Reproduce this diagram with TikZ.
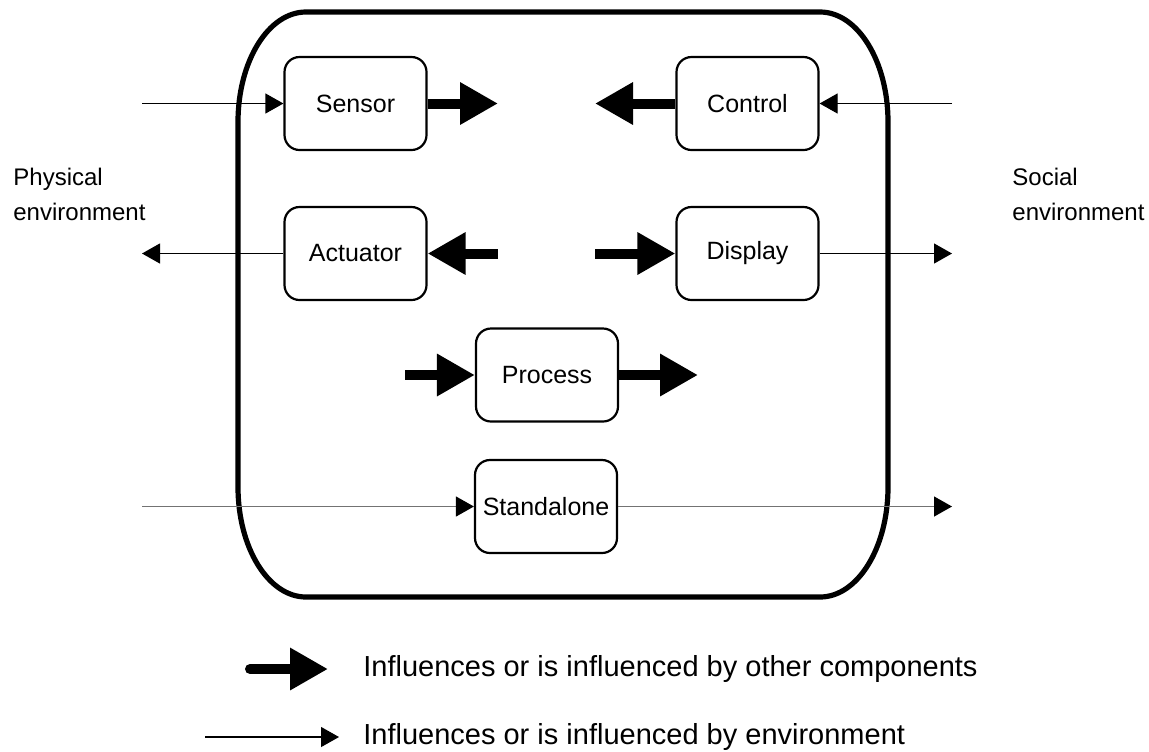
\documentclass[tikz,border=0pt]{standalone}
\usepackage{fontspec}
\setmainfont{Liberation Sans}
\usetikzlibrary{arrows.meta}

\tikzset{
  unit/.style={draw, line width=1.1pt, rounded corners=7.5pt, minimum width=71pt,
    minimum height=46.5pt, inner sep=2pt, font=\fontsize{12.5}{15}\selectfont},
  envflow/.style={line width=0.6pt, -{Triangle[length=9pt,width=10pt,black]}},
  compflow/.style={line width=5pt, -{Triangle[length=19pt,width=20pt]}},
  envlabel/.style={align=left, anchor=north west, inner sep=0pt,
    font=\fontsize{12}{17.5}\selectfont},
  legtext/.style={anchor=west, inner sep=0pt, font=\fontsize{14.5}{17}\selectfont}
}

\begin{document}
\begin{tikzpicture}[x=0.5pt, y=-0.5pt]

  \useasboundingbox (0,0) rectangle (1149,751);

  % Device outline
  \draw[line width=2.6pt]
    (238,122) .. controls (238,61.2) and (268.4,12) .. (306,12)
    -- (820,12) .. controls (857.6,12) and (888,61.2) .. (888,122)
    -- (888,487) .. controls (888,547.8) and (857.6,597) .. (820,597)
    -- (306,597) .. controls (268.4,597) and (238,547.8) .. (238,487) -- cycle;

  % Components
  \foreach \name/\txt/\x/\y in {sensor/Sensor/355.5/103.5, control/Control/747.5/103.5,
      actuator/Actuator/355.5/253.5, display/Display/747.5/253.5,
      process/Process/547/375, standalone/Standalone/546/506.5}
    {\node[unit] (\name) at (\x,\y) {\txt};}

  % Environments
  \node[envlabel] (physical) at (13,168) {Physical\\environment};
  \node[envlabel] (social) at (1012,168) {Social\\environment};

  % Free ends
  \coordinate (physin) at (142,103.5);
  \coordinate (physout) at (142,253.5);
  \coordinate (physsa) at (142,506.5);
  \coordinate (socin) at (952,103.5);
  \coordinate (socout) at (952,253.5);
  \coordinate (socsa) at (952,506.5);
  \coordinate (sensorto) at (498,103.5);
  \coordinate (controlto) at (595,103.5);
  \coordinate (actfrom) at (498,253.5);
  \coordinate (dispfrom) at (595,253.5);
  \coordinate (procfrom) at (405,375);
  \coordinate (procto) at (698,375);

  % Environment flows
  \foreach \a/\b in {physin/sensor, actuator/physout, socin/control, display/socout}
    {\draw[envflow] (\a) -- (\b);}
  \draw[envflow, black!55] (physsa) -- (standalone);
  \draw[envflow, black!55] (standalone) -- (socsa);

  % Component flows
  \foreach \a/\b in {sensor/sensorto, control/controlto, actfrom/actuator,
      dispfrom/display, procfrom/process, process/procto}
    {\draw[compflow] (\a) -- (\b);}

  % Legend
  \coordinate (legbigA) at (250,669);
  \coordinate (legbigB) at (328,669);
  \coordinate (legthinA) at (205,737);
  \coordinate (legthinB) at (339,737);
  \draw[compflow, line cap=round] (legbigA) -- (legbigB);
  \draw[envflow] (legthinA) -- (legthinB);
  \node[legtext] (legbig) at (363,669) {Influences or is influenced by other components};
  \node[legtext] (legthin) at (363,737) {Influences or is influenced by environment};

\end{tikzpicture}
\end{document}
